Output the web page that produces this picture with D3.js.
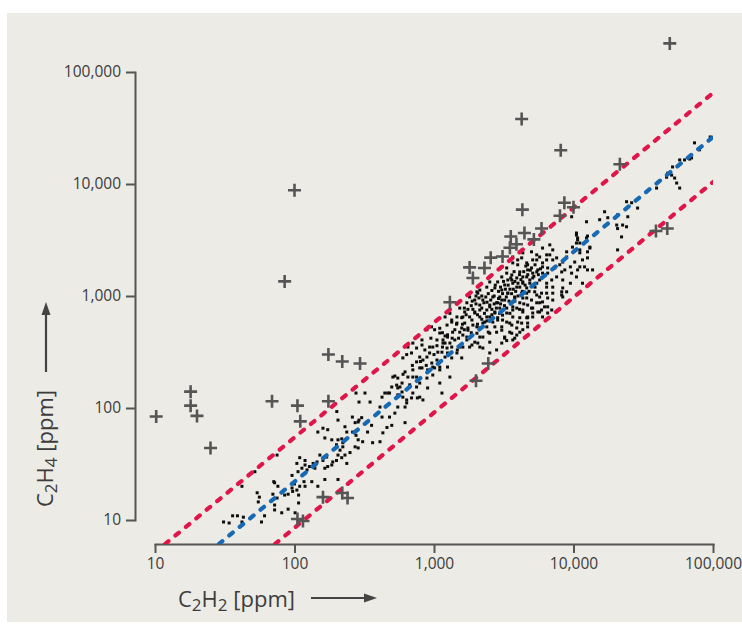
<!DOCTYPE html>
<html>
<head>
<meta charset="utf-8">
<script src="https://cdn.jsdelivr.net/npm/d3@7"></script>
<style>
body { margin: 0; background: #fff; }
svg { display: block; font-family: "Open Sans", sans-serif; }
.axis path, .axis line { stroke: #555; stroke-width: 2; }
.axis text { fill: #3c3c3c; font-size: 15.5px; font-family: "Open Sans", sans-serif; }
</style>
</head>
<body>
<svg id="chart"></svg>
<script>
const width = 742;
const height = 628;

// axis ticks (ppm), same on both axes
const tickValues = [10, 100, 1000, 10000, 100000];

// regression line (blue) and the two limit lines (red), endpoints [C2H2, C2H4] in ppm
const upperLimit = [[11.8, 6.1], [100000, 65000]];
const fitLine = [[28.7, 6.1], [100000, 26300]];
const lowerLimit = [[72.4, 6.1], [100000, 10400]];

// outliers drawn as "+" : [C2H2, C2H4]
const outliers = [
    [49000, 180000], [4250, 38000], [8100, 20000], [21500, 15000], [100, 8800], [85, 1350],
    [4300, 5900], [8600, 6800], [10000, 6200], [8000, 5200], [5900, 4000], [3550, 3400],
    [4450, 3650], [5200, 3200], [3900, 2900], [3500, 2700], [2550, 2200], [3100, 2250],
    [1800, 1800], [2300, 1780], [1900, 1450], [1300, 880], [2450, 250], [2000, 175],
    [39000, 3800], [47000, 4000], [175, 300], [220, 260], [295, 250], [18, 140], [18, 105],
    [20, 85], [10.2, 84], [25, 44], [69, 115], [105, 105], [110, 76], [175, 115],
    [160, 16], [220, 17.4], [240, 15.7], [105, 10.2], [115, 9.8]
];

// regular samples drawn as small dots : [C2H2, C2H4]
const samples = [
    // low range
    [31, 9.6], [36, 10.9], [39, 10.9], [43, 10.6], [42, 9.6], [34, 9.4], [58, 9.6], [61, 10.9],
    [42, 20], [52, 27], [54, 17.5], [56, 16], [71, 22], [76, 20], [70, 17], [75, 15.7], [72, 13.6],
    [72, 12.3], [81, 11.6], [90, 12.5], [85, 16.7], [90, 17], [96, 19.3], [100, 21], [104, 18.5],
    [97, 18], [109, 20], [107, 16.7], [107, 14.2], [119, 20], [117, 22], [96, 25], [106, 27],
    [113, 29], [119, 31], [123, 28], [128, 30], [136, 32], [145, 33], [140, 29], [109, 36],
    [119, 34], [104, 32], [133, 22], [147, 20], [165, 29], [165, 23], [173, 30], [185, 31],
    [188, 33], [200, 34], [205, 38], [212, 42], [222, 45], [230, 38], [237, 32], [250, 40],
    [218, 36], [152, 38], [160, 34], [170, 36.5], [147, 61], [160, 66], [173, 64], [165, 54],
    [185, 52], [205, 52], [200, 47], [205, 78], [230, 68], [237, 61], [218, 53], [222, 49],
    [260, 83], [272, 74], [286, 75], [290, 78], [303, 82], [261, 61], [276, 57], [286, 52],
    [272, 45], [286, 44], [308, 50], [334, 61], [363, 49], [357, 70], [348, 113], [320, 136],
    [290, 113], [276, 136], [201, 93], [205, 23], [75, 38], [101, 11.6], [72, 21.5], [55, 14.5],
    // 400 - 1,500 ppm
    [424, 125], [444, 136], [466, 136], [498, 154], [524, 193], [550, 185], [570, 154], [590, 139],
    [550, 131], [598, 125], [620, 102], [550, 102], [637, 111], [690, 123], [705, 136], [750, 154],
    [670, 161], [650, 189], [620, 210], [705, 219], [750, 189], [820, 228], [833, 118], [790, 125],
    [524, 90], [480, 83], [460, 67], [498, 70], [430, 60], [424, 83], [620, 74], [410, 50],
    [598, 280], [637, 300], [690, 310], [705, 380], [650, 350], [750, 343], [790, 285], [833, 268],
    [890, 285], [930, 310], [964, 252], [1010, 228], [1050, 268], [980, 350], [1050, 405],
    [1100, 467], [1140, 315], [1200, 285], [1240, 343], [1250, 232], [1100, 219], [900, 219],
    [890, 185], [980, 197], [1300, 189], [1100, 167], [1140, 136], [820, 405], [890, 500],
    [960, 530], [1010, 500], [1100, 515], [1160, 405], [1250, 450], [1240, 550], [1340, 585],
    [1410, 500], [1410, 405], [1340, 350], [1460, 310], [1530, 350], [1580, 280], [1340, 280],
    [1200, 650], [1300, 700], [1460, 650], [1580, 640], [1660, 720], [1530, 780],
    [410, 102], [480, 136], [507, 189], [550, 151], [590, 167], [637, 118], [705, 189], [790, 228],
    [750, 258], [930, 350], [980, 232], [1100, 232], [1065, 315], [1160, 380], [1250, 310],
    [1250, 430], [1360, 475], [1460, 573], [1530, 475], [1340, 610], [790, 167], [900, 151],
    [760, 123], [820, 365], [1470, 330],
    [800, 260], [860, 330], [950, 420], [1000, 300], [1150, 350], [1200, 440], [1300, 380],
    [700, 240], [600, 200], [540, 160], [880, 240], [1050, 360],
    // dense core
    [1720, 870], [1800, 980], [1960, 920], [2060, 1060], [2130, 830], [2240, 920], [2390, 750],
    [2510, 830], [2640, 980], [2810, 870], [2960, 780], [2730, 705], [2510, 650], [2310, 585],
    [2130, 650], [1960, 720], [1800, 650], [1900, 550], [2130, 520], [2390, 530], [2640, 585],
    [2860, 640], [3100, 675], [3320, 585], [3060, 530], [2810, 475], [2510, 465], [2240, 430],
    [2030, 465], [1750, 495], [1720, 405], [1870, 365], [2060, 380], [2240, 343], [2510, 387],
    [1610, 448], [1660, 573], [1580, 518], [1610, 650], [1750, 518], [1870, 610], [1960, 705],
    [2130, 750], [2030, 530], [2240, 573], [2390, 650], [2510, 800], [2730, 720], [2860, 870],
    [3060, 920], [3320, 780], [2860, 610], [2730, 530], [2450, 476], [2130, 430], [1960, 387],
    [1720, 430], [1610, 350], [1800, 350], [2130, 350],
    [2960, 980], [3210, 920], [3380, 1060], [3610, 870], [3790, 980], [3920, 780], [4120, 870],
    [4330, 960], [4620, 1060], [4690, 830], [5000, 920], [5100, 780], [5450, 870], [5720, 980],
    [6000, 885], [6420, 1060], [4330, 720], [4690, 640], [4120, 640], [3670, 650], [3610, 550],
    [3920, 518], [4250, 573], [3490, 475], [3210, 420],
    [2130, 1130], [2390, 1200], [2510, 1335], [2730, 1180], [2860, 1335], [3060, 1480],
    [3210, 1255], [3380, 1390], [3610, 1540], [3670, 1300], [3920, 1450], [4120, 1200],
    [4330, 1335], [4620, 1480], [4860, 1300], [5100, 1450], [5450, 1640], [5720, 1390],
    [6000, 1600], [6420, 1300], [6530, 1780], [5000, 1780], [4620, 1975], [5450, 2100],
    [6000, 1975], [3980, 1900], [3670, 1975], [4250, 2190], [3320, 1780], [2960, 1750],
    [2030, 1090],
    [1650, 780], [1700, 680], [1850, 820], [1880, 900], [1900, 760], [2000, 850], [2000, 1000],
    [2050, 680], [2100, 960], [2200, 780], [2200, 1000], [2280, 870], [2300, 700], [2350, 980],
    [2400, 880], [2450, 1050], [2550, 920], [2600, 760], [2600, 1120], [2700, 1000], [2700, 850],
    [2750, 1250], [2900, 1100], [2900, 950], [3000, 1200], [3000, 850], [3100, 1050], [3150, 1350],
    [3250, 1150], [3300, 980], [3400, 1250], [3450, 900], [3500, 1150], [3550, 1450], [3600, 1050],
    [3700, 1150], [3750, 1650], [3800, 1350], [3850, 1100], [4000, 1300], [4000, 1000],
    [4100, 1550], [4200, 1400], [4300, 1100], [4400, 1650], [4500, 1250], [4550, 1850],
    [4700, 1550], [4800, 1100], [4900, 1700], [5200, 1500], [5300, 1900], [5300, 1200],
    [5600, 1550], [5800, 1750], [2200, 620], [2400, 600], [2600, 680], [2800, 780], [2950, 700],
    [3200, 820], [3500, 700], [3800, 900], [4100, 760], [4400, 850], [1750, 760], [1600, 560],
    [1850, 470], [2050, 560], [1450, 560], [1500, 420], [1650, 500], [1350, 420], [1200, 380],
    [1150, 470],
    [2510, 310], [2810, 330], [3060, 380], [3320, 400], [3670, 405], [3920, 448], [4330, 500],
    [4690, 573], [5100, 650], [5720, 720], [6200, 800], [6530, 705],
    // 3,000 - 13,000 ppm
    [3060, 1820], [3320, 1600], [3610, 1390], [3920, 1200], [3060, 1130], [3380, 1060],
    [3790, 960], [4250, 1060], [4620, 1180], [4330, 1300], [4860, 1390], [5100, 1600],
    [5550, 1710], [6000, 1820], [6420, 2100], [6760, 2330], [7100, 2580], [6000, 2680],
    [6760, 2860], [5100, 2100], [4690, 1900], [4120, 1640], [3980, 2100], [3670, 2230],
    [4330, 2430], [5000, 2480], [5720, 2230], [7570, 2190], [7970, 1900], [7340, 1780],
    [6530, 1600], [5900, 1450], [5450, 1300], [5270, 1090], [5900, 1060], [6420, 1200],
    [6980, 1390], [7570, 1480], [8230, 1640], [8370, 2010], [8930, 2230], [9500, 1820],
    [9690, 1600], [10200, 2010], [10700, 1710], [11100, 2430], [12000, 1820], [10500, 2970],
    [10700, 3300], [11100, 2580], [12600, 2190], [13100, 2680], [12400, 3300], [9500, 1300],
    [8370, 1180], [7100, 1060], [6530, 960], [5720, 870], [5000, 780], [4330, 750], [3670, 800],
    [3320, 705], [3100, 610], [3490, 573], [3980, 585], [4620, 640], [5100, 705], [5900, 750],
    [8230, 1090], [8370, 980], [6980, 750], [11600, 1300], [6000, 650], [4690, 530], [4120, 475],
    [3610, 465], [3210, 430], [3060, 495], [3790, 420], [5450, 2330],
    [4330, 1480], [4690, 1710], [6420, 2330], [7100, 2100], [8660, 1710], [8930, 2480],
    [9830, 2730], [11100, 2970], [10500, 3650], [12600, 2480], [13100, 2730], [11600, 2100],
    [10500, 1480], [8370, 1390], [7100, 1200], [5450, 1020], [4620, 960], [3670, 750], [7100, 920],
    [8230, 1020], [6530, 800], [5550, 720], [4690, 650], [8930, 1090], [11100, 1820],
    [12600, 1710], [13700, 1710],
    // high range
    [10500, 3500], [10700, 3170], [12400, 4600], [12600, 3430], [15400, 4800], [16700, 5650],
    [17600, 5000], [20700, 5300], [20400, 4300], [22500, 4300], [24000, 4150], [20700, 4000],
    [22100, 3370], [20700, 2580], [24000, 6950], [24500, 5100], [28800, 6100], [26100, 6800],
    [39400, 9200], [47300, 12500], [50500, 12000], [53100, 11300], [54900, 10200], [57700, 9200],
    [57700, 16400], [62500, 16400], [70200, 17100], [73700, 23300], [80000, 20200],
    [51300, 14200], [95500, 26300], [68000, 16700], [46500, 11500], [9700, 5100]
];

const svg = d3.select("#chart")
    .attr("width", width)
    .attr("height", height);

// beige panel
svg.append("rect")
    .attr("x", 7).attr("y", 13)
    .attr("width", width - 7).attr("height", 609)
    .attr("fill", "#ecebe5");

const x = d3.scaleLog().domain([10, 100000]).range([155, 713]);
const y = d3.scaleLog().domain([10, 100000]).range([520, 72]);

// axes
const fmt = d3.format(",");

svg.append("g")
    .attr("class", "axis")
    .attr("transform", "translate(135,0)")
    .call(d3.axisLeft(y).tickValues(tickValues).tickFormat(fmt)
        .tickSize(9).tickSizeOuter(0).tickPadding(5));

svg.append("g")
    .attr("class", "axis")
    .attr("transform", "translate(0,544)")
    .call(d3.axisBottom(x).tickValues(tickValues).tickFormat(fmt)
        .tickSize(9).tickSizeOuter(0).tickPadding(5));

svg.selectAll(".axis .domain").attr("stroke-linecap", "square");

// clip for the dashed lines
svg.append("clipPath").attr("id", "plot-clip")
    .append("rect")
    .attr("x", x.range()[0]).attr("y", 20)
    .attr("width", x.range()[1] - x.range()[0]).attr("height", 524);

const plot = svg.append("g");

// sample dots
plot.selectAll("rect.sample")
    .data(samples)
    .enter().append("rect")
    .attr("class", "sample")
    .attr("x", d => x(d[0]) - 1.5)
    .attr("y", d => y(d[1]) - 1.5)
    .attr("width", 3)
    .attr("height", 3)
    .attr("fill", "#0d0d0d");

// dashed lines
const line = d3.line().x(d => x(d[0])).y(d => y(d[1]));
const lines = [
    { pts: upperLimit, color: "#e0164b" },
    { pts: lowerLimit, color: "#e0164b" },
    { pts: fitLine, color: "#1769b3" }
];

plot.append("g").attr("clip-path", "url(#plot-clip)")
    .selectAll("path")
    .data(lines)
    .enter().append("path")
    .attr("d", d => line(d.pts))
    .attr("fill", "none")
    .attr("stroke", d => d.color)
    .attr("stroke-width", 4.2)
    .attr("stroke-linecap", "round")
    .attr("stroke-dasharray", "4.5 9");

// outliers
plot.selectAll("path.outlier")
    .data(outliers)
    .enter().append("path")
    .attr("class", "outlier")
    .attr("transform", d => `translate(${x(d[0])},${y(d[1])})`)
    .attr("d", "M-6.5,0H6.5M0,-6.5V6.5")
    .attr("stroke", "#555")
    .attr("stroke-width", 2.6)
    .attr("fill", "none");

// axis titles
function formula(sel, sub) {
    sel.append("tspan").text("C");
    sel.append("tspan").attr("dy", 4).attr("font-size", "17px").text("2");
    sel.append("tspan").attr("dy", -4).text("H");
    sel.append("tspan").attr("dy", 4).attr("font-size", "17px").text(sub);
    sel.append("tspan").attr("dy", -4).text(" [ppm]");
}

svg.append("text")
    .attr("x", 178).attr("y", 607)
    .attr("font-size", "22px")
    .attr("fill", "#3c3c3c")
    .call(formula, "2");

svg.append("text")
    .attr("transform", "translate(53,507) rotate(-90)")
    .attr("font-size", "22px")
    .attr("fill", "#3c3c3c")
    .call(formula, "4");

// arrows
svg.append("line")
    .attr("x1", 311).attr("x2", 366).attr("y1", 598).attr("y2", 598)
    .attr("stroke", "#444").attr("stroke-width", 2.2);
svg.append("path")
    .attr("d", "M377,598L364,593.5L364,602.5Z")
    .attr("fill", "#444");

svg.append("line")
    .attr("x1", 46).attr("x2", 46).attr("y1", 372).attr("y2", 313)
    .attr("stroke", "#444").attr("stroke-width", 2.2);
svg.append("path")
    .attr("d", "M46,302L41.5,315L50.5,315Z")
    .attr("fill", "#444");
</script>
</body>
</html>
